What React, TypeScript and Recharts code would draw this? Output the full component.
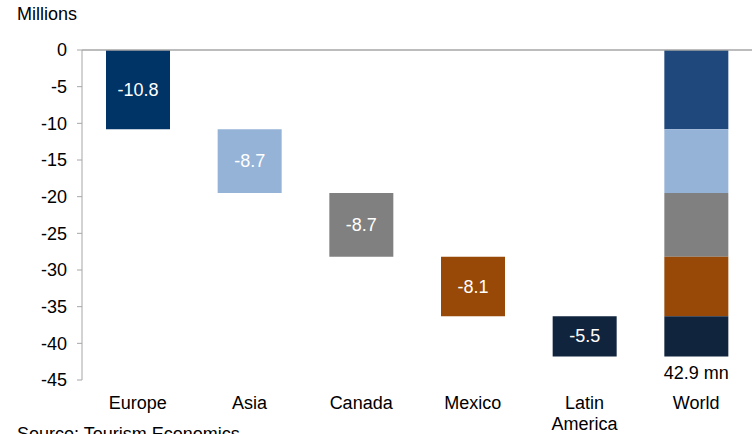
import React from "react";
import { BarChart, Bar, XAxis, YAxis, ReferenceLine, LabelList, Cell } from "recharts";

const categories = ["Europe", "Asia", "Canada", "Mexico", "Latin America", "World"];
const regionKeys = ["europe", "asia", "canada", "mexico", "latam"];
const regionValues = [-10.8, -8.7, -8.7, -8.1, -5.5];
const regionColors = ["#003366", "#95B3D7", "#808080", "#984807", "#10243E"];
const worldColors = ["#1F497D", "#95B3D7", "#808080", "#984807", "#10243E"];
const worldLabel = "42.9 mn";
const yTicks = [0, -5, -10, -15, -20, -25, -30, -35, -40, -45];

const data = categories.map((name, i) => {
  const row: any = { name };
  if (i < regionValues.length) {
    row.base = regionValues.slice(0, i).reduce((a, b) => a + b, 0);
    row[regionKeys[i]] = regionValues[i];
    row[regionKeys[i] + "Label"] = String(regionValues[i]);
  } else {
    row.base = 0;
    regionKeys.forEach((k, j) => (row[k] = regionValues[j]));
    row.worldLabel = worldLabel;
  }
  return row;
});

const FONT = "Liberation Sans, Arial, sans-serif";
const FS = 18;

const CatTick = (props: any) => {
  const { x, y, payload } = props;
  const parts = String(payload.value).split(" ");
  return (
    <text x={x} y={y} textAnchor="middle" fill="#000" fontSize={FS} fontFamily={FONT}>
      {parts.map((p: string, i: number) => (
        <tspan key={i} x={x} dy={21}>
          {p}
        </tspan>
      ))}
    </text>
  );
};

const InnerLabel = (props: any) => {
  const { x, y, width, height, value } = props;
  if (value === undefined || value === null || value === "") return null;
  return (
    <text
      x={x + width / 2}
      y={y + height / 2}
      textAnchor="middle"
      dominantBaseline="central"
      fill="#fff"
      fontSize={FS}
      fontFamily={FONT}
    >
      {value}
    </text>
  );
};

const WorldLabel = (props: any) => {
  const { x, y, width, height, value } = props;
  if (value === undefined || value === null || value === "") return null;
  const bottom = Math.max(y, y + height);
  return (
    <text x={x + width / 2} y={bottom + 22} textAnchor="middle" fill="#000" fontSize={FS} fontFamily={FONT}>
      {value}
    </text>
  );
};

export default function App() {
  return (
    <div style={{ position: "absolute", left: 0, top: 0, width: 753, height: 434, overflow: "hidden", background: "#fff" }}>
      <div style={{ position: "absolute", left: 17, top: 4, fontSize: FS, fontFamily: FONT, color: "#000" }}>Millions</div>
      <div style={{ position: "absolute", left: 17, top: 424, fontSize: FS, fontFamily: FONT, color: "#000", whiteSpace: "nowrap" }}>
        Source: Tourism Economics
      </div>
      <BarChart
        width={753}
        height={434}
        data={data}
        margin={{ top: 50, right: 1, bottom: 0, left: 0 }}
        barSize={64}
        style={{ position: "absolute", left: 0, top: 0 }}
      >
        <XAxis dataKey="name" axisLine={false} tickLine={false} height={54} tick={<CatTick />} interval={0} />
        <YAxis
          type="number"
          domain={[-45, 0]}
          ticks={yTicks}
          width={82}
          axisLine={{ stroke: "#a6a6a6" }}
          tickLine={{ stroke: "#a6a6a6" }}
          tickSize={5}
          tickMargin={10}
          tick={{ fill: "#000", fontSize: FS, fontFamily: FONT }}
          interval={0}
        />
        <Bar dataKey="base" stackId="a" fill="transparent" isAnimationActive={false} />
        {regionKeys.map((k, i) => (
          <Bar key={k} dataKey={k} stackId="a" fill={regionColors[i]} isAnimationActive={false}>
            {data.map((d, j) => (
              <Cell key={j} fill={j === categories.length - 1 ? worldColors[i] : regionColors[i]} />
            ))}
            <LabelList dataKey={k + "Label"} content={InnerLabel} />
            {i === regionKeys.length - 1 && <LabelList dataKey="worldLabel" content={WorldLabel} />}
          </Bar>
        ))}
        <ReferenceLine y={0} stroke="#a6a6a6" strokeWidth={1.5} />
      </BarChart>
    </div>
  );
}
